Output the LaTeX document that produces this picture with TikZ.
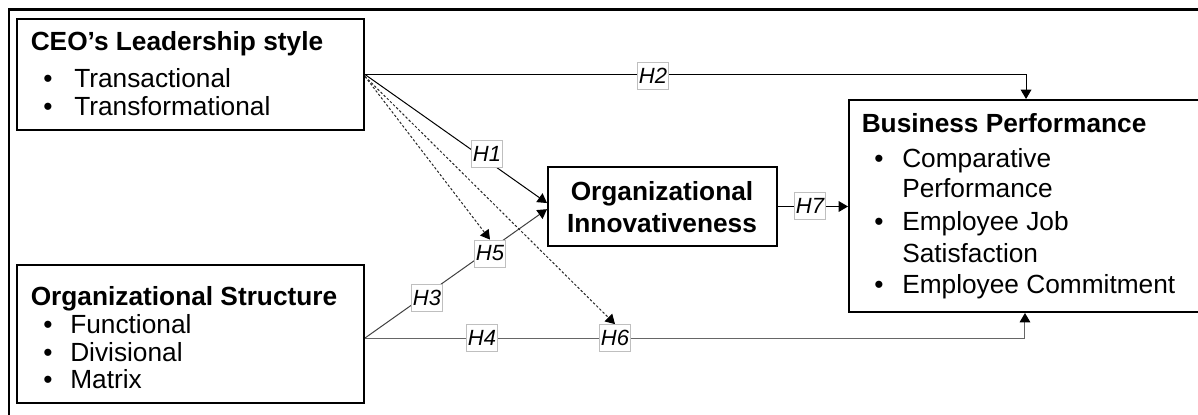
\documentclass[tikz,border=0pt]{standalone}
\usepackage{fontspec}
\setmainfont{Liberation Sans}
\usetikzlibrary{arrows.meta,backgrounds,calc}
\begin{document}
\begin{tikzpicture}[x=0.75pt,y=-0.75pt,
  box/.style={draw,line width=1.5pt,inner sep=0pt,anchor=center},
  txt/.style={anchor=base west,inner sep=0pt,font=\fontsize{19.7}{23}\selectfont},
  ttl/.style={anchor=base west,inner sep=0pt,font=\fontsize{19.7}{23}\selectfont\bfseries},
  ctr/.style={anchor=base,inner sep=0pt,font=\fontsize{19.7}{23}\selectfont\bfseries},
  lbl/.style={draw=black!25,line width=0.6pt,fill=white,inner xsep=1pt,inner ysep=0pt,minimum height=20.25pt,font=\fontsize{16.5}{19}\selectfont\itshape},
  arr/.style={-{Triangle[length=7pt,width=8pt,color=black]}},
  ln/.style={line width=0.75pt},
  dsh/.style={line width=0.75pt,black!85,dash pattern=on 1.8pt off 1.5pt}
]
\useasboundingbox (0,0) rectangle (1198,414);
\clip (0,0) rectangle (1198,414);
% outer frame (top and left edges visible)
\draw[line width=2.2pt] (9,420) -- (9,9.5) -- (1210,9.5);

% boxes
\node[box,minimum width=260.25pt,minimum height=83.25pt] (ceo) at (190.5,74.5) {};
\node[box,minimum width=260.25pt,minimum height=103.5pt] (os) at (190.5,334) {};
\node[box,minimum width=171.75pt,minimum height=59.25pt] (inn) at (662.5,206.5) {};
\node[box,minimum width=270.75pt,minimum height=159pt] (bp) at (1029.5,206) {};

% CEO text
\node[ttl] (ceoT) at (30.5,50) {CEO’s Leadership style};
\node[txt] (ceoB1) at (43,87) {•};
\node[txt] (ceoI1) at (74,87) {Transactional};
\node[txt] (ceoB2) at (43,115) {•};
\node[txt] (ceoI2) at (74,115) {Transformational};

% Org structure text
\node[ttl] (osT) at (30.5,305) {Organizational Structure};
\node[txt] (osB1) at (43,333) {•};
\node[txt] (osI1) at (70,333) {Functional};
\node[txt] (osB2) at (43,361) {•};
\node[txt] (osI2) at (70,361) {Divisional};
\node[txt] (osB3) at (43,388) {•};
\node[txt] (osI3) at (70,388) {Matrix};

% Innovativeness text
\node[ctr] (innT1) at (662,200) {Organizational};
\node[ctr] (innT2) at (662,232) {Innovativeness};

% Business performance text
\node[ttl] (bpT) at (861.5,132) {Business Performance};
\node[txt] (bpB1) at (874,167) {•};
\node[txt] (bpI1) at (902,167) {Comparative};
\node[txt] (bpI1b) at (902,197) {Performance};
\node[txt] (bpB2) at (874,230) {•};
\node[txt] (bpI2) at (902,230) {Employee Job};
\node[txt] (bpI2b) at (902,262) {Satisfaction};
\node[txt] (bpB3) at (874,293) {•};
\node[txt] (bpI3) at (902,293) {Employee Commitment};

% labels
\node[lbl] (h1) at (487,153.5) {H1};
\node[lbl] (h2) at (653,76) {H2};
\node[lbl] (h3) at (427,298) {H3};
\node[lbl] (h4) at (482,338) {H4};
\node[lbl] (h5) at (490,253.5) {H5};
\node[lbl] (h6) at (615,338) {H6};
\node[lbl] (h7) at (810,205.5) {H7};

% connectors
\begin{pgfonlayer}{background}
\draw[ln,arr] (ceo.east) -| ([xshift=-2.6pt]bp.north);
\draw[ln,arr] (ceo.east) -- ([yshift=2.6pt]inn.west);
\draw[dsh,arr] ([yshift=-1.5pt]ceo.east) -- (h5.north);
\draw[dsh,arr] ([yshift=-1.5pt]ceo.east) -- (h6.north);
\draw[ln,black!75,arr] ([yshift=-3pt]os.east) -- ([yshift=-2pt]inn.west);
\draw[ln,black!60,arr] ([yshift=-3pt]os.east) -| ([xshift=-3.4pt]bp.south);
\draw[ln,arr] (inn.east) -- (inn.east -| bp.west);
\end{pgfonlayer}
\end{tikzpicture}
\end{document}
